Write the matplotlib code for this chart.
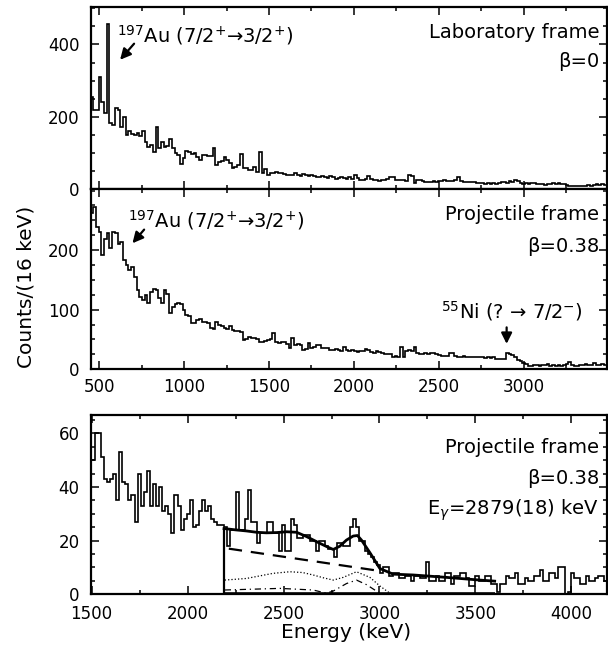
import numpy as np
import matplotlib
matplotlib.use("Agg")
import matplotlib.pyplot as plt
from matplotlib.ticker import MultipleLocator, FixedLocator

# the scanned figure has wide glyphs, DejaVu Sans fits its metrics best
plt.rcParams['font.family'] = ['DejaVu Sans']
plt.rcParams['mathtext.fontset'] = 'dejavusans'

# spectra, 16 keV per bin
binWidth = 16
labStart = 448      # keV, first bin edge of the two upper spectra
zoomStart = 1500    # keV, first bin edge of the lower spectrum

labCounts = [255, 220, 220, 310, 240, 210, 456, 183, 178, 224,
             219, 173, 200, 150, 160, 152, 150, 155, 146, 160,
             130, 118, 123, 104, 173, 113, 130, 118, 120, 139,
             113, 100, 95, 70, 86, 107, 104, 99, 101, 90,
             81, 95, 95, 92, 92, 113, 67, 76, 78, 90,
             81, 72, 58, 62, 67, 99, 58, 58, 53, 53,
             62, 48, 104, 44, 55, 41, 46, 45, 47, 44,
             46, 42, 40, 39, 41, 44, 40, 38, 42, 39,
             37, 40, 36, 33, 35, 37, 34, 32, 36, 33,
             30, 32, 34, 31, 30, 33, 30, 39, 32, 26,
             26, 28, 38, 28, 26, 25, 24, 27, 26, 30,
             35, 33, 26, 25, 27, 26, 24, 39, 37, 18,
             26, 25, 22, 20, 21, 19, 22, 20, 24, 23,
             25, 22, 24, 23, 26, 35, 24, 21, 20, 19,
             21, 20, 18, 17, 18, 16, 17, 15, 18, 16,
             17, 20, 21, 18, 22, 20, 26, 24, 17, 16,
             18, 15, 17, 17, 15, 14, 14, 13, 15, 16,
             17, 16, 17, 15, 14, 13, 9, 8, 10, 9,
             8, 10, 9, 11, 9, 12, 14, 13, 14, 12]

projCounts = [262, 272, 239, 230, 191, 219, 228, 203, 230, 228,
              211, 214, 183, 175, 167, 171, 155, 133, 122, 116,
              125, 111, 130, 134, 133, 119, 111, 133, 127, 94,
              105, 109, 111, 109, 99, 91, 89, 77, 77, 83,
              84, 80, 80, 78, 69, 68, 80, 75, 72, 69,
              68, 72, 66, 65, 64, 63, 49, 50, 55, 52,
              52, 50, 46, 45, 47, 49, 50, 61, 46, 44,
              46, 45, 43, 36, 52, 41, 42, 40, 33, 34,
              44, 36, 37, 40, 40, 36, 35, 36, 33, 32,
              34, 33, 31, 38, 32, 31, 33, 30, 29, 31,
              30, 34, 33, 29, 28, 30, 29, 27, 26, 25,
              26, 21, 22, 21, 38, 21, 30, 33, 30, 38,
              27, 26, 25, 27, 26, 28, 27, 26, 24, 22,
              23, 22, 28, 27, 23, 21, 20, 22, 21, 20,
              20, 20, 20, 20, 20, 19, 20, 19, 20, 18,
              17, 18, 17, 27, 25, 24, 20, 16, 14, 10,
              9, 6, 5, 7, 8, 6, 8, 7, 9, 6,
              7, 5, 8, 6, 7, 9, 13, 7, 5, 6,
              8, 7, 9, 8, 7, 10, 7, 8, 9, 7]

zoomCounts = [50, 60, 60, 51, 43, 42, 43, 45, 35, 53,
              42, 41, 35, 37, 27, 45, 33, 38, 46, 33,
              41, 33, 40, 31, 33, 30, 23, 37, 33, 24,
              28, 30, 35, 25, 26, 31, 35, 31, 33, 28,
              27, 26, 26, 25, 18, 24, 24, 38, 24, 24,
              28, 39, 27, 27, 19, 23, 23, 27, 27, 23,
              23, 16, 26, 16, 16, 28, 26, 21, 21, 22,
              22, 20, 20, 16, 20, 20, 18, 17, 17, 14,
              19, 19, 18, 18, 25, 28, 25, 20, 20, 16,
              15, 14, 12, 11, 8, 10, 10, 7, 8, 8,
              6, 6, 7, 7, 5, 7, 7, 6, 6, 12,
              5, 5, 7, 5, 5, 8, 8, 4, 7, 7,
              8, 8, 6, 3, 3, 7, 5, 5, 7, 7,
              4, 4, 1, 4, 4, 7, 6, 6, 8, 4,
              4, 6, 5, 5, 7, 7, 9, 5, 5, 8,
              8, 6, 10, 10, 0, 1, 8, 6, 6, 4,
              4, 7, 5, 5, 6, 7, 7, 5]

# fit components
fitE = [2190, 2250, 2307, 2360, 2411, 2465, 2516, 2568, 2620, 2689, 2730, 2759,
        2793, 2828, 2863, 2885, 2906, 2950, 3002, 3071, 3175, 3349, 3522, 3600]
fitY = [24.5, 24.0, 23.6, 23.1, 22.9, 23.0, 23.3, 23.1, 21.5, 19.0, 17.6, 16.7,
        17.9, 20.2, 21.7, 21.9, 20.2, 15.5, 9.6, 7.5, 7.2, 6.3, 5.3, 4.9]
bgE = [2215, 3010]
bgY = [17.0, 8.6]
dotE = [2194, 2307, 2445, 2533, 2600, 2654, 2710, 2759, 2811, 2880, 2950, 3002, 3054]
dotY = [5.3, 5.9, 7.8, 8.4, 8.1, 7.2, 6.1, 5.3, 6.3, 8.4, 6.3, 3.1, 0.4]
ddE = [2194, 2481, 2654, 2724, 2759, 2828, 2880, 2932, 2984, 3019]
ddY = [1.6, 2.2, 1.6, 0.4, 1.2, 4.0, 5.3, 3.6, 1.2, 0.0]

labEdges = labStart + binWidth * np.arange(len(labCounts) + 1)
projEdges = labStart + binWidth * np.arange(len(projCounts) + 1)
zoomEdges = zoomStart + binWidth * np.arange(len(zoomCounts) + 1)


def styleAxis(ax, xMajor, xMinor, yTicks, yMinor):
    ax.xaxis.set_major_locator(MultipleLocator(xMajor))
    ax.xaxis.set_minor_locator(MultipleLocator(xMinor))
    ax.yaxis.set_major_locator(FixedLocator(yTicks))
    ax.yaxis.set_minor_locator(MultipleLocator(yMinor))
    ax.tick_params(which='both', direction='in', top=True, right=True,
                   width=1.1, labelsize=12)
    ax.tick_params(which='major', length=6)
    ax.tick_params(which='minor', length=3)
    ax.tick_params(axis='x', pad=6)
    ax.tick_params(axis='y', pad=8)
    for s in ax.spines.values():
        s.set_linewidth(1.6)


fig = plt.figure(figsize=(6.08, 6.53), dpi=100)
axTop = fig.add_axes([0.149, 0.710, 0.849, 0.279])
axMid = fig.add_axes([0.149, 0.4345, 0.849, 0.2755], sharex=axTop)
axBot = fig.add_axes([0.149, 0.0899, 0.849, 0.2746])

# laboratory frame
axTop.stairs(labCounts, labEdges, color='black', lw=1.2, baseline=None)
axTop.set_xlim(449, 3490)
axTop.set_ylim(0, 503)
styleAxis(axTop, 500, 250, [0, 200, 400], 50)
axTop.tick_params(labelbottom=False)
axTop.annotate('', xy=(612, 352), xytext=(716, 408),
               arrowprops=dict(arrowstyle='-|>', color='black', lw=1.6, mutation_scale=16))
axTop.text(605, 407, r'$^{197}$Au (7/2$^{+}$→3/2$^{+}$)', fontsize=14, va='baseline')
axTop.text(0.985, 0.86, 'Laboratory frame', transform=axTop.transAxes,
           ha='right', va='center', fontsize=14)
axTop.text(0.985, 0.70, 'β=0', transform=axTop.transAxes,
           ha='right', va='center', fontsize=14)

# projectile frame
axMid.stairs(projCounts, projEdges, color='black', lw=1.2, baseline=None)
axMid.set_ylim(0, 302)
styleAxis(axMid, 500, 250, [0, 100, 200], 25)
axMid.annotate('', xy=(685, 208), xytext=(775, 238),
               arrowprops=dict(arrowstyle='-|>', color='black', lw=1.6, mutation_scale=16))
axMid.text(670, 238, r'$^{197}$Au (7/2$^{+}$→3/2$^{+}$)', fontsize=14, va='baseline')
axMid.annotate('', xy=(2900, 38), xytext=(2900, 75),
               arrowprops=dict(arrowstyle='-|>', color='black', lw=1.6, mutation_scale=16))
axMid.text(2515, 86, r'$^{55}$Ni (? → 7/2$^{-}$)', fontsize=14, va='baseline')
axMid.text(0.985, 0.86, 'Projectile frame', transform=axMid.transAxes,
           ha='right', va='center', fontsize=14)
axMid.text(0.985, 0.685, 'β=0.38', transform=axMid.transAxes,
           ha='right', va='center', fontsize=14)

# projectile frame, high-energy part with fit
axBot.stairs(zoomCounts, zoomEdges, color='black', lw=1.2, baseline=None)
axBot.plot(fitE, fitY, color='black', lw=2.0)
axBot.vlines(fitE[0], 0, fitY[0], color='black', lw=1.6)
axBot.hlines(0, fitE[0], fitE[-1], color='black', lw=2.6)
axBot.plot(bgE, bgY, color='black', lw=1.6, ls=(0, (6, 4)))
axBot.plot(dotE, dotY, color='black', lw=0.9, ls=':')
axBot.plot(ddE, ddY, color='black', lw=0.9, ls=(0, (5, 3, 1, 3)))
axBot.set_xlim(1495, 4184)
axBot.set_ylim(0, 66.8)
styleAxis(axBot, 500, 250, [0, 20, 40, 60], 5)
axBot.tick_params(axis='x', pad=8)
axBot.text(0.985, 0.82, 'Projectile frame', transform=axBot.transAxes,
           ha='right', va='center', fontsize=14)
axBot.text(0.985, 0.645, 'β=0.38', transform=axBot.transAxes,
           ha='right', va='center', fontsize=14)
axBot.text(0.985, 0.47, r'E$_{\gamma}$=2879(18) keV', transform=axBot.transAxes,
           ha='right', va='center', fontsize=14)

fig.text(0.042, 0.56, 'Counts/(16 keV)', rotation=90, ha='center', va='center', fontsize=14.5)
fig.text(0.57, 0.031, 'Energy (keV)', ha='center', va='center', fontsize=14.5)

fig.savefig('out.png', dpi=100)
